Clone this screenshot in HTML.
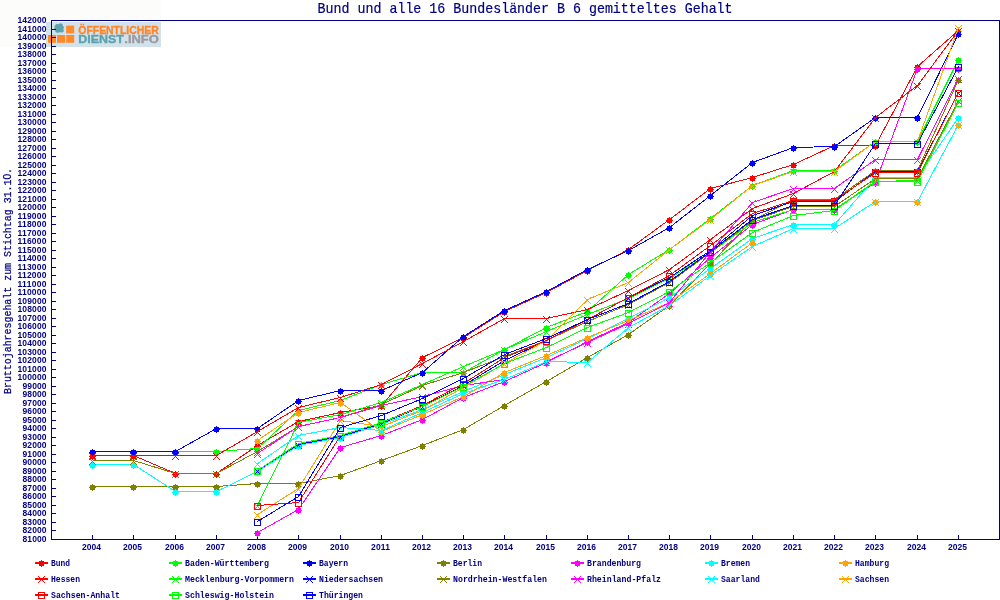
<!DOCTYPE html>
<html lang="de"><head><meta charset="utf-8"><title>Bund und alle 16 Bundesländer B 6 gemitteltes Gehalt</title>
<style>html,body{margin:0;padding:0;background:#fff}svg{display:block}text{font-family:"Liberation Mono","DejaVu Sans Mono",monospace;fill:#000080}.lg text,.d text{font-family:"Liberation Sans",sans-serif;font-weight:bold}</style></head><body>
<svg width="1000" height="600" viewBox="0 0 1000 600">
<rect width="1000" height="600" fill="#ffffff"/>
<rect x="0" y="0" width="161" height="47" fill="#fcfdfb"/>
<g class="lg"><rect x="46" y="22" width="115" height="25" fill="#d3e2ea"/>
<path d="M55 25.2l1.6-1.2 2.2.3 1.4-1 2.3.6.3 1.8 1.2 1.4-.6 2.2.5 2-1.6 1.2-2.8-.2-1.8.6-2.2-1-.3-2 -1-1.6z" fill="#5ba3ad"/>
<rect x="66.2" y="25.6" width="8" height="7.8" fill="#ff8a2c"/>
<rect x="48" y="35" width="8" height="7.8" fill="#ff8a2c"/>
<rect x="57.1" y="35" width="8" height="7.8" fill="#ff8a2c"/>
<rect x="66.2" y="35" width="8" height="7.8" fill="#ff8a2c"/>
<text x="78.3" y="33.6" font-size="10.9" textLength="80.5" lengthAdjust="spacingAndGlyphs" style="fill:#ff8527;stroke:#ff8527;stroke-width:.35">ÖFFENTLICHER</text>
<text x="78.3" y="42.8" font-size="10.9" textLength="45.5" lengthAdjust="spacingAndGlyphs" style="fill:#5ba3ad;stroke:#5ba3ad;stroke-width:.35">DIENST</text>
<text x="124.3" y="42.8" font-size="10.9" textLength="34.5" lengthAdjust="spacingAndGlyphs" style="fill:#9a9aa0;stroke:#9a9aa0;stroke-width:.35">.INFO</text>
</g>
<text x="317.6" y="13" font-size="14.2" textLength="415" lengthAdjust="spacingAndGlyphs" stroke="#000080" stroke-width=".2">Bund und alle 16 Bundesländer B 6 gemitteltes Gehalt</text>
<text transform="translate(10.6,394) rotate(-90)" font-size="10.6" textLength="226" lengthAdjust="spacingAndGlyphs" stroke="#000080" stroke-width=".25">Bruttojahresgehalt zum Stichtag 31.1<tspan style="font-family:'Liberation Sans',sans-serif">0</tspan>.</text>
<g shape-rendering="crispEdges" stroke="#000080" stroke-width="1" fill="none">
<path d="M51.5 20v520M51 539.5h949M999.5 20v520M51 20.5h949"/>
<path d="M52 539.5h4M52 530.5h4M52 522.5h4M52 513.5h4M52 505.5h4M52 496.5h4M52 488.5h4M52 479.5h4M52 471.5h4M52 462.5h4M52 454.5h4M52 445.5h4M52 437.5h4M52 428.5h4M52 420.5h4M52 411.5h4M52 403.5h4M52 394.5h4M52 386.5h4M52 377.5h4M52 369.5h4M52 360.5h4M52 352.5h4M52 343.5h4M52 335.5h4M52 326.5h4M52 318.5h4M52 309.5h4M52 301.5h4M52 292.5h4M52 284.5h4M52 275.5h4M52 267.5h4M52 258.5h4M52 250.5h4M52 241.5h4M52 233.5h4M52 224.5h4M52 216.5h4M52 207.5h4M52 199.5h4M52 190.5h4M52 182.5h4M52 173.5h4M52 165.5h4M52 156.5h4M52 148.5h4M52 139.5h4M52 131.5h4M52 122.5h4M52 114.5h4M52 105.5h4M52 97.5h4M52 88.5h4M52 80.5h4M52 71.5h4M52 63.5h4M52 54.5h4M52 46.5h4M52 37.5h4M52 29.5h4M52 20.5h4M92.5 535v4M133.5 535v4M175.5 535v4M216.5 535v4M257.5 535v4M298.5 535v4M340.5 535v4M381.5 535v4M422.5 535v4M463.5 535v4M504.5 535v4M546.5 535v4M587.5 535v4M628.5 535v4M669.5 535v4M710.5 535v4M752.5 535v4M793.5 535v4M834.5 535v4M875.5 535v4M917.5 535v4M958.5 535v4"/>
</g>
<g class="d" font-size="8.5" font-weight="bold">
<text x="22.5" y="542.1" textLength="24" lengthAdjust="spacing">81000</text>
<text x="22.5" y="533.1" textLength="24" lengthAdjust="spacing">82000</text>
<text x="22.5" y="525.1" textLength="24" lengthAdjust="spacing">83000</text>
<text x="22.5" y="516.1" textLength="24" lengthAdjust="spacing">84000</text>
<text x="22.5" y="508.1" textLength="24" lengthAdjust="spacing">85000</text>
<text x="22.5" y="499.1" textLength="24" lengthAdjust="spacing">86000</text>
<text x="22.5" y="491.1" textLength="24" lengthAdjust="spacing">87000</text>
<text x="22.5" y="482.1" textLength="24" lengthAdjust="spacing">88000</text>
<text x="22.5" y="474.1" textLength="24" lengthAdjust="spacing">89000</text>
<text x="22.5" y="465.1" textLength="24" lengthAdjust="spacing">90000</text>
<text x="22.5" y="457.1" textLength="24" lengthAdjust="spacing">91000</text>
<text x="22.5" y="448.1" textLength="24" lengthAdjust="spacing">92000</text>
<text x="22.5" y="440.1" textLength="24" lengthAdjust="spacing">93000</text>
<text x="22.5" y="431.1" textLength="24" lengthAdjust="spacing">94000</text>
<text x="22.5" y="423.1" textLength="24" lengthAdjust="spacing">95000</text>
<text x="22.5" y="414.1" textLength="24" lengthAdjust="spacing">96000</text>
<text x="22.5" y="406.1" textLength="24" lengthAdjust="spacing">97000</text>
<text x="22.5" y="397.1" textLength="24" lengthAdjust="spacing">98000</text>
<text x="22.5" y="389.1" textLength="24" lengthAdjust="spacing">99000</text>
<text x="17.5" y="380.1" textLength="29" lengthAdjust="spacing">100000</text>
<text x="17.5" y="372.1" textLength="29" lengthAdjust="spacing">101000</text>
<text x="17.5" y="363.1" textLength="29" lengthAdjust="spacing">102000</text>
<text x="17.5" y="355.1" textLength="29" lengthAdjust="spacing">103000</text>
<text x="17.5" y="346.1" textLength="29" lengthAdjust="spacing">104000</text>
<text x="17.5" y="338.1" textLength="29" lengthAdjust="spacing">105000</text>
<text x="17.5" y="329.1" textLength="29" lengthAdjust="spacing">106000</text>
<text x="17.5" y="321.1" textLength="29" lengthAdjust="spacing">107000</text>
<text x="17.5" y="312.1" textLength="29" lengthAdjust="spacing">108000</text>
<text x="17.5" y="304.1" textLength="29" lengthAdjust="spacing">109000</text>
<text x="17.5" y="295.1" textLength="29" lengthAdjust="spacing">110000</text>
<text x="17.5" y="287.1" textLength="29" lengthAdjust="spacing">111000</text>
<text x="17.5" y="278.1" textLength="29" lengthAdjust="spacing">112000</text>
<text x="17.5" y="270.1" textLength="29" lengthAdjust="spacing">113000</text>
<text x="17.5" y="261.1" textLength="29" lengthAdjust="spacing">114000</text>
<text x="17.5" y="253.1" textLength="29" lengthAdjust="spacing">115000</text>
<text x="17.5" y="244.1" textLength="29" lengthAdjust="spacing">116000</text>
<text x="17.5" y="236.1" textLength="29" lengthAdjust="spacing">117000</text>
<text x="17.5" y="227.1" textLength="29" lengthAdjust="spacing">118000</text>
<text x="17.5" y="219.1" textLength="29" lengthAdjust="spacing">119000</text>
<text x="17.5" y="210.1" textLength="29" lengthAdjust="spacing">120000</text>
<text x="17.5" y="202.1" textLength="29" lengthAdjust="spacing">121000</text>
<text x="17.5" y="193.1" textLength="29" lengthAdjust="spacing">122000</text>
<text x="17.5" y="185.1" textLength="29" lengthAdjust="spacing">123000</text>
<text x="17.5" y="176.1" textLength="29" lengthAdjust="spacing">124000</text>
<text x="17.5" y="168.1" textLength="29" lengthAdjust="spacing">125000</text>
<text x="17.5" y="159.1" textLength="29" lengthAdjust="spacing">126000</text>
<text x="17.5" y="151.1" textLength="29" lengthAdjust="spacing">127000</text>
<text x="17.5" y="142.1" textLength="29" lengthAdjust="spacing">128000</text>
<text x="17.5" y="134.1" textLength="29" lengthAdjust="spacing">129000</text>
<text x="17.5" y="125.1" textLength="29" lengthAdjust="spacing">130000</text>
<text x="17.5" y="117.1" textLength="29" lengthAdjust="spacing">131000</text>
<text x="17.5" y="108.1" textLength="29" lengthAdjust="spacing">132000</text>
<text x="17.5" y="100.1" textLength="29" lengthAdjust="spacing">133000</text>
<text x="17.5" y="91.1" textLength="29" lengthAdjust="spacing">134000</text>
<text x="17.5" y="83.1" textLength="29" lengthAdjust="spacing">135000</text>
<text x="17.5" y="74.1" textLength="29" lengthAdjust="spacing">136000</text>
<text x="17.5" y="66.1" textLength="29" lengthAdjust="spacing">137000</text>
<text x="17.5" y="57.1" textLength="29" lengthAdjust="spacing">138000</text>
<text x="17.5" y="49.1" textLength="29" lengthAdjust="spacing">139000</text>
<text x="17.5" y="40.1" textLength="29" lengthAdjust="spacing">140000</text>
<text x="17.5" y="32.1" textLength="29" lengthAdjust="spacing">141000</text>
<text x="17.5" y="23.1" textLength="29" lengthAdjust="spacing">142000</text>
<text x="82.0" y="550" textLength="19" lengthAdjust="spacing">2004</text>
<text x="123.0" y="550" textLength="19" lengthAdjust="spacing">2005</text>
<text x="165.0" y="550" textLength="19" lengthAdjust="spacing">2006</text>
<text x="206.0" y="550" textLength="19" lengthAdjust="spacing">2007</text>
<text x="247.0" y="550" textLength="19" lengthAdjust="spacing">2008</text>
<text x="288.0" y="550" textLength="19" lengthAdjust="spacing">2009</text>
<text x="330.0" y="550" textLength="19" lengthAdjust="spacing">2010</text>
<text x="371.0" y="550" textLength="19" lengthAdjust="spacing">2011</text>
<text x="412.0" y="550" textLength="19" lengthAdjust="spacing">2012</text>
<text x="453.0" y="550" textLength="19" lengthAdjust="spacing">2013</text>
<text x="494.0" y="550" textLength="19" lengthAdjust="spacing">2014</text>
<text x="536.0" y="550" textLength="19" lengthAdjust="spacing">2015</text>
<text x="577.0" y="550" textLength="19" lengthAdjust="spacing">2016</text>
<text x="618.0" y="550" textLength="19" lengthAdjust="spacing">2017</text>
<text x="659.0" y="550" textLength="19" lengthAdjust="spacing">2018</text>
<text x="700.0" y="550" textLength="19" lengthAdjust="spacing">2019</text>
<text x="742.0" y="550" textLength="19" lengthAdjust="spacing">2020</text>
<text x="783.0" y="550" textLength="19" lengthAdjust="spacing">2021</text>
<text x="824.0" y="550" textLength="19" lengthAdjust="spacing">2022</text>
<text x="865.0" y="550" textLength="19" lengthAdjust="spacing">2023</text>
<text x="907.0" y="550" textLength="19" lengthAdjust="spacing">2024</text>
<text x="948.0" y="550" textLength="19" lengthAdjust="spacing">2025</text>
</g>
<g shape-rendering="crispEdges" stroke-width="1" fill="none">
<path d="M92.5 455.5L133.5 455.5L175.5 473.5L216.5 473.5L257.5 445.5L298.5 421.5L340.5 412.5L381.5 405.5L422.5 357.5L463.5 337.5L504.5 311.5L546.5 292.5L587.5 270.5L628.5 249.5L669.5 219.5L710.5 188.5L752.5 177.5L793.5 164.5L834.5 145.5L875.5 145.5L917.5 66.5L958.5 30.5" stroke="#ff0000"/>
<g><path d="M90.0 454.0h5v5h-5zM92.0 453.0h1v7h-1zM89.0 456.0h7v1h-7z" fill="#ff0000" stroke="none"/><path d="M131.0 454.0h5v5h-5zM133.0 453.0h1v7h-1zM130.0 456.0h7v1h-7z" fill="#ff0000" stroke="none"/><path d="M173.0 472.0h5v5h-5zM175.0 471.0h1v7h-1zM172.0 474.0h7v1h-7z" fill="#ff0000" stroke="none"/><path d="M214.0 472.0h5v5h-5zM216.0 471.0h1v7h-1zM213.0 474.0h7v1h-7z" fill="#ff0000" stroke="none"/><path d="M255.0 444.0h5v5h-5zM257.0 443.0h1v7h-1zM254.0 446.0h7v1h-7z" fill="#ff0000" stroke="none"/><path d="M296.0 420.0h5v5h-5zM298.0 419.0h1v7h-1zM295.0 422.0h7v1h-7z" fill="#ff0000" stroke="none"/><path d="M338.0 411.0h5v5h-5zM340.0 410.0h1v7h-1zM337.0 413.0h7v1h-7z" fill="#ff0000" stroke="none"/><path d="M379.0 404.0h5v5h-5zM381.0 403.0h1v7h-1zM378.0 406.0h7v1h-7z" fill="#ff0000" stroke="none"/><path d="M420.0 356.0h5v5h-5zM422.0 355.0h1v7h-1zM419.0 358.0h7v1h-7z" fill="#ff0000" stroke="none"/><path d="M461.0 336.0h5v5h-5zM463.0 335.0h1v7h-1zM460.0 338.0h7v1h-7z" fill="#ff0000" stroke="none"/><path d="M502.0 310.0h5v5h-5zM504.0 309.0h1v7h-1zM501.0 312.0h7v1h-7z" fill="#ff0000" stroke="none"/><path d="M544.0 291.0h5v5h-5zM546.0 290.0h1v7h-1zM543.0 293.0h7v1h-7z" fill="#ff0000" stroke="none"/><path d="M585.0 269.0h5v5h-5zM587.0 268.0h1v7h-1zM584.0 271.0h7v1h-7z" fill="#ff0000" stroke="none"/><path d="M626.0 248.0h5v5h-5zM628.0 247.0h1v7h-1zM625.0 250.0h7v1h-7z" fill="#ff0000" stroke="none"/><path d="M667.0 218.0h5v5h-5zM669.0 217.0h1v7h-1zM666.0 220.0h7v1h-7z" fill="#ff0000" stroke="none"/><path d="M708.0 187.0h5v5h-5zM710.0 186.0h1v7h-1zM707.0 189.0h7v1h-7z" fill="#ff0000" stroke="none"/><path d="M750.0 176.0h5v5h-5zM752.0 175.0h1v7h-1zM749.0 178.0h7v1h-7z" fill="#ff0000" stroke="none"/><path d="M791.0 163.0h5v5h-5zM793.0 162.0h1v7h-1zM790.0 165.0h7v1h-7z" fill="#ff0000" stroke="none"/><path d="M832.0 144.0h5v5h-5zM834.0 143.0h1v7h-1zM831.0 146.0h7v1h-7z" fill="#ff0000" stroke="none"/><path d="M873.0 144.0h5v5h-5zM875.0 143.0h1v7h-1zM872.0 146.0h7v1h-7z" fill="#ff0000" stroke="none"/><path d="M915.0 65.0h5v5h-5zM917.0 64.0h1v7h-1zM914.0 67.0h7v1h-7z" fill="#ff0000" stroke="none"/><path d="M956.0 29.0h5v5h-5zM958.0 28.0h1v7h-1zM955.0 31.0h7v1h-7z" fill="#ff0000" stroke="none"/></g>
<path d="M92.5 451.5L133.5 451.5L175.5 451.5L216.5 451.5L257.5 448.5L298.5 410.5L340.5 400.5L381.5 384.5L422.5 372.5L463.5 372.5L504.5 349.5L546.5 327.5L587.5 311.5L628.5 274.5L669.5 249.5L710.5 218.5L752.5 185.5L793.5 170.5L834.5 170.5L875.5 141.5L917.5 141.5L958.5 59.5" stroke="#00ff00"/>
<g><path d="M90.0 450.0h5v5h-5zM92.0 449.0h1v7h-1zM89.0 452.0h7v1h-7z" fill="#00ff00" stroke="none"/><path d="M131.0 450.0h5v5h-5zM133.0 449.0h1v7h-1zM130.0 452.0h7v1h-7z" fill="#00ff00" stroke="none"/><path d="M173.0 450.0h5v5h-5zM175.0 449.0h1v7h-1zM172.0 452.0h7v1h-7z" fill="#00ff00" stroke="none"/><path d="M214.0 450.0h5v5h-5zM216.0 449.0h1v7h-1zM213.0 452.0h7v1h-7z" fill="#00ff00" stroke="none"/><path d="M255.0 447.0h5v5h-5zM257.0 446.0h1v7h-1zM254.0 449.0h7v1h-7z" fill="#00ff00" stroke="none"/><path d="M296.0 409.0h5v5h-5zM298.0 408.0h1v7h-1zM295.0 411.0h7v1h-7z" fill="#00ff00" stroke="none"/><path d="M338.0 399.0h5v5h-5zM340.0 398.0h1v7h-1zM337.0 401.0h7v1h-7z" fill="#00ff00" stroke="none"/><path d="M379.0 383.0h5v5h-5zM381.0 382.0h1v7h-1zM378.0 385.0h7v1h-7z" fill="#00ff00" stroke="none"/><path d="M420.0 371.0h5v5h-5zM422.0 370.0h1v7h-1zM419.0 373.0h7v1h-7z" fill="#00ff00" stroke="none"/><path d="M461.0 371.0h5v5h-5zM463.0 370.0h1v7h-1zM460.0 373.0h7v1h-7z" fill="#00ff00" stroke="none"/><path d="M502.0 348.0h5v5h-5zM504.0 347.0h1v7h-1zM501.0 350.0h7v1h-7z" fill="#00ff00" stroke="none"/><path d="M544.0 326.0h5v5h-5zM546.0 325.0h1v7h-1zM543.0 328.0h7v1h-7z" fill="#00ff00" stroke="none"/><path d="M585.0 310.0h5v5h-5zM587.0 309.0h1v7h-1zM584.0 312.0h7v1h-7z" fill="#00ff00" stroke="none"/><path d="M626.0 273.0h5v5h-5zM628.0 272.0h1v7h-1zM625.0 275.0h7v1h-7z" fill="#00ff00" stroke="none"/><path d="M667.0 248.0h5v5h-5zM669.0 247.0h1v7h-1zM666.0 250.0h7v1h-7z" fill="#00ff00" stroke="none"/><path d="M708.0 217.0h5v5h-5zM710.0 216.0h1v7h-1zM707.0 219.0h7v1h-7z" fill="#00ff00" stroke="none"/><path d="M750.0 184.0h5v5h-5zM752.0 183.0h1v7h-1zM749.0 186.0h7v1h-7z" fill="#00ff00" stroke="none"/><path d="M791.0 169.0h5v5h-5zM793.0 168.0h1v7h-1zM790.0 171.0h7v1h-7z" fill="#00ff00" stroke="none"/><path d="M832.0 169.0h5v5h-5zM834.0 168.0h1v7h-1zM831.0 171.0h7v1h-7z" fill="#00ff00" stroke="none"/><path d="M873.0 140.0h5v5h-5zM875.0 139.0h1v7h-1zM872.0 142.0h7v1h-7z" fill="#00ff00" stroke="none"/><path d="M915.0 140.0h5v5h-5zM917.0 139.0h1v7h-1zM914.0 142.0h7v1h-7z" fill="#00ff00" stroke="none"/><path d="M956.0 58.0h5v5h-5zM958.0 57.0h1v7h-1zM955.0 60.0h7v1h-7z" fill="#00ff00" stroke="none"/></g>
<path d="M92.5 451.5L133.5 451.5L175.5 451.5L216.5 428.5L257.5 428.5L298.5 400.5L340.5 390.5L381.5 390.5L422.5 372.5L463.5 336.5L504.5 310.5L546.5 291.5L587.5 269.5L628.5 250.5L669.5 227.5L710.5 195.5L752.5 162.5L793.5 147.5L834.5 146.5L875.5 117.5L917.5 117.5L958.5 33.5" stroke="#0000ff"/>
<g><path d="M90.0 450.0h5v5h-5zM92.0 449.0h1v7h-1zM89.0 452.0h7v1h-7z" fill="#0000ff" stroke="none"/><path d="M131.0 450.0h5v5h-5zM133.0 449.0h1v7h-1zM130.0 452.0h7v1h-7z" fill="#0000ff" stroke="none"/><path d="M173.0 450.0h5v5h-5zM175.0 449.0h1v7h-1zM172.0 452.0h7v1h-7z" fill="#0000ff" stroke="none"/><path d="M214.0 427.0h5v5h-5zM216.0 426.0h1v7h-1zM213.0 429.0h7v1h-7z" fill="#0000ff" stroke="none"/><path d="M255.0 427.0h5v5h-5zM257.0 426.0h1v7h-1zM254.0 429.0h7v1h-7z" fill="#0000ff" stroke="none"/><path d="M296.0 399.0h5v5h-5zM298.0 398.0h1v7h-1zM295.0 401.0h7v1h-7z" fill="#0000ff" stroke="none"/><path d="M338.0 389.0h5v5h-5zM340.0 388.0h1v7h-1zM337.0 391.0h7v1h-7z" fill="#0000ff" stroke="none"/><path d="M379.0 389.0h5v5h-5zM381.0 388.0h1v7h-1zM378.0 391.0h7v1h-7z" fill="#0000ff" stroke="none"/><path d="M420.0 371.0h5v5h-5zM422.0 370.0h1v7h-1zM419.0 373.0h7v1h-7z" fill="#0000ff" stroke="none"/><path d="M461.0 335.0h5v5h-5zM463.0 334.0h1v7h-1zM460.0 337.0h7v1h-7z" fill="#0000ff" stroke="none"/><path d="M502.0 309.0h5v5h-5zM504.0 308.0h1v7h-1zM501.0 311.0h7v1h-7z" fill="#0000ff" stroke="none"/><path d="M544.0 290.0h5v5h-5zM546.0 289.0h1v7h-1zM543.0 292.0h7v1h-7z" fill="#0000ff" stroke="none"/><path d="M585.0 268.0h5v5h-5zM587.0 267.0h1v7h-1zM584.0 270.0h7v1h-7z" fill="#0000ff" stroke="none"/><path d="M626.0 249.0h5v5h-5zM628.0 248.0h1v7h-1zM625.0 251.0h7v1h-7z" fill="#0000ff" stroke="none"/><path d="M667.0 226.0h5v5h-5zM669.0 225.0h1v7h-1zM666.0 228.0h7v1h-7z" fill="#0000ff" stroke="none"/><path d="M708.0 194.0h5v5h-5zM710.0 193.0h1v7h-1zM707.0 196.0h7v1h-7z" fill="#0000ff" stroke="none"/><path d="M750.0 161.0h5v5h-5zM752.0 160.0h1v7h-1zM749.0 163.0h7v1h-7z" fill="#0000ff" stroke="none"/><path d="M791.0 146.0h5v5h-5zM793.0 145.0h1v7h-1zM790.0 148.0h7v1h-7z" fill="#0000ff" stroke="none"/><path d="M832.0 145.0h5v5h-5zM834.0 144.0h1v7h-1zM831.0 147.0h7v1h-7z" fill="#0000ff" stroke="none"/><path d="M873.0 116.0h5v5h-5zM875.0 115.0h1v7h-1zM872.0 118.0h7v1h-7z" fill="#0000ff" stroke="none"/><path d="M915.0 116.0h5v5h-5zM917.0 115.0h1v7h-1zM914.0 118.0h7v1h-7z" fill="#0000ff" stroke="none"/><path d="M956.0 32.0h5v5h-5zM958.0 31.0h1v7h-1zM955.0 34.0h7v1h-7z" fill="#0000ff" stroke="none"/></g>
<path d="M92.5 486.5L133.5 486.5L175.5 486.5L216.5 486.5L257.5 483.5L298.5 483.5L340.5 475.5L381.5 460.5L422.5 445.5L463.5 429.5L504.5 405.5L546.5 381.5L587.5 357.5L628.5 334.5L669.5 305.5L710.5 263.5L752.5 220.5L793.5 199.5L834.5 199.5L875.5 170.5L917.5 170.5L958.5 79.5" stroke="#808000"/>
<g><path d="M90.0 485.0h5v5h-5zM92.0 484.0h1v7h-1zM89.0 487.0h7v1h-7z" fill="#808000" stroke="none"/><path d="M131.0 485.0h5v5h-5zM133.0 484.0h1v7h-1zM130.0 487.0h7v1h-7z" fill="#808000" stroke="none"/><path d="M173.0 485.0h5v5h-5zM175.0 484.0h1v7h-1zM172.0 487.0h7v1h-7z" fill="#808000" stroke="none"/><path d="M214.0 485.0h5v5h-5zM216.0 484.0h1v7h-1zM213.0 487.0h7v1h-7z" fill="#808000" stroke="none"/><path d="M255.0 482.0h5v5h-5zM257.0 481.0h1v7h-1zM254.0 484.0h7v1h-7z" fill="#808000" stroke="none"/><path d="M296.0 482.0h5v5h-5zM298.0 481.0h1v7h-1zM295.0 484.0h7v1h-7z" fill="#808000" stroke="none"/><path d="M338.0 474.0h5v5h-5zM340.0 473.0h1v7h-1zM337.0 476.0h7v1h-7z" fill="#808000" stroke="none"/><path d="M379.0 459.0h5v5h-5zM381.0 458.0h1v7h-1zM378.0 461.0h7v1h-7z" fill="#808000" stroke="none"/><path d="M420.0 444.0h5v5h-5zM422.0 443.0h1v7h-1zM419.0 446.0h7v1h-7z" fill="#808000" stroke="none"/><path d="M461.0 428.0h5v5h-5zM463.0 427.0h1v7h-1zM460.0 430.0h7v1h-7z" fill="#808000" stroke="none"/><path d="M502.0 404.0h5v5h-5zM504.0 403.0h1v7h-1zM501.0 406.0h7v1h-7z" fill="#808000" stroke="none"/><path d="M544.0 380.0h5v5h-5zM546.0 379.0h1v7h-1zM543.0 382.0h7v1h-7z" fill="#808000" stroke="none"/><path d="M585.0 356.0h5v5h-5zM587.0 355.0h1v7h-1zM584.0 358.0h7v1h-7z" fill="#808000" stroke="none"/><path d="M626.0 333.0h5v5h-5zM628.0 332.0h1v7h-1zM625.0 335.0h7v1h-7z" fill="#808000" stroke="none"/><path d="M667.0 304.0h5v5h-5zM669.0 303.0h1v7h-1zM666.0 306.0h7v1h-7z" fill="#808000" stroke="none"/><path d="M708.0 262.0h5v5h-5zM710.0 261.0h1v7h-1zM707.0 264.0h7v1h-7z" fill="#808000" stroke="none"/><path d="M750.0 219.0h5v5h-5zM752.0 218.0h1v7h-1zM749.0 221.0h7v1h-7z" fill="#808000" stroke="none"/><path d="M791.0 198.0h5v5h-5zM793.0 197.0h1v7h-1zM790.0 200.0h7v1h-7z" fill="#808000" stroke="none"/><path d="M832.0 198.0h5v5h-5zM834.0 197.0h1v7h-1zM831.0 200.0h7v1h-7z" fill="#808000" stroke="none"/><path d="M873.0 169.0h5v5h-5zM875.0 168.0h1v7h-1zM872.0 171.0h7v1h-7z" fill="#808000" stroke="none"/><path d="M915.0 169.0h5v5h-5zM917.0 168.0h1v7h-1zM914.0 171.0h7v1h-7z" fill="#808000" stroke="none"/><path d="M956.0 78.0h5v5h-5zM958.0 77.0h1v7h-1zM955.0 80.0h7v1h-7z" fill="#808000" stroke="none"/></g>
<path d="M257.5 532.5L298.5 509.5L340.5 447.5L381.5 435.5L422.5 419.5L463.5 397.5L504.5 381.5L546.5 362.5L587.5 341.5L628.5 322.5L669.5 293.5L710.5 257.5L752.5 224.5L793.5 209.5L834.5 209.5L875.5 182.5L917.5 68.5L958.5 68.5" stroke="#ff00ff"/>
<g><path d="M255.0 531.0h5v5h-5zM257.0 530.0h1v7h-1zM254.0 533.0h7v1h-7z" fill="#ff00ff" stroke="none"/><path d="M296.0 508.0h5v5h-5zM298.0 507.0h1v7h-1zM295.0 510.0h7v1h-7z" fill="#ff00ff" stroke="none"/><path d="M338.0 446.0h5v5h-5zM340.0 445.0h1v7h-1zM337.0 448.0h7v1h-7z" fill="#ff00ff" stroke="none"/><path d="M379.0 434.0h5v5h-5zM381.0 433.0h1v7h-1zM378.0 436.0h7v1h-7z" fill="#ff00ff" stroke="none"/><path d="M420.0 418.0h5v5h-5zM422.0 417.0h1v7h-1zM419.0 420.0h7v1h-7z" fill="#ff00ff" stroke="none"/><path d="M461.0 396.0h5v5h-5zM463.0 395.0h1v7h-1zM460.0 398.0h7v1h-7z" fill="#ff00ff" stroke="none"/><path d="M502.0 380.0h5v5h-5zM504.0 379.0h1v7h-1zM501.0 382.0h7v1h-7z" fill="#ff00ff" stroke="none"/><path d="M544.0 361.0h5v5h-5zM546.0 360.0h1v7h-1zM543.0 363.0h7v1h-7z" fill="#ff00ff" stroke="none"/><path d="M585.0 340.0h5v5h-5zM587.0 339.0h1v7h-1zM584.0 342.0h7v1h-7z" fill="#ff00ff" stroke="none"/><path d="M626.0 321.0h5v5h-5zM628.0 320.0h1v7h-1zM625.0 323.0h7v1h-7z" fill="#ff00ff" stroke="none"/><path d="M667.0 292.0h5v5h-5zM669.0 291.0h1v7h-1zM666.0 294.0h7v1h-7z" fill="#ff00ff" stroke="none"/><path d="M708.0 256.0h5v5h-5zM710.0 255.0h1v7h-1zM707.0 258.0h7v1h-7z" fill="#ff00ff" stroke="none"/><path d="M750.0 223.0h5v5h-5zM752.0 222.0h1v7h-1zM749.0 225.0h7v1h-7z" fill="#ff00ff" stroke="none"/><path d="M791.0 208.0h5v5h-5zM793.0 207.0h1v7h-1zM790.0 210.0h7v1h-7z" fill="#ff00ff" stroke="none"/><path d="M832.0 208.0h5v5h-5zM834.0 207.0h1v7h-1zM831.0 210.0h7v1h-7z" fill="#ff00ff" stroke="none"/><path d="M873.0 181.0h5v5h-5zM875.0 180.0h1v7h-1zM872.0 183.0h7v1h-7z" fill="#ff00ff" stroke="none"/><path d="M915.0 67.0h5v5h-5zM917.0 66.0h1v7h-1zM914.0 69.0h7v1h-7z" fill="#ff00ff" stroke="none"/><path d="M956.0 67.0h5v5h-5zM958.0 66.0h1v7h-1zM955.0 69.0h7v1h-7z" fill="#ff00ff" stroke="none"/></g>
<path d="M92.5 464.5L133.5 464.5L175.5 491.5L216.5 491.5L257.5 471.5L298.5 445.5L340.5 437.5L381.5 424.5L422.5 409.5L463.5 391.5L504.5 374.5L546.5 357.5L587.5 338.5L628.5 318.5L669.5 297.5L710.5 268.5L752.5 238.5L793.5 224.5L834.5 224.5L875.5 177.5L917.5 177.5L958.5 117.5" stroke="#00ffff"/>
<g><path d="M90.0 463.0h5v5h-5zM92.0 462.0h1v7h-1zM89.0 465.0h7v1h-7z" fill="#00ffff" stroke="none"/><path d="M131.0 463.0h5v5h-5zM133.0 462.0h1v7h-1zM130.0 465.0h7v1h-7z" fill="#00ffff" stroke="none"/><path d="M173.0 490.0h5v5h-5zM175.0 489.0h1v7h-1zM172.0 492.0h7v1h-7z" fill="#00ffff" stroke="none"/><path d="M214.0 490.0h5v5h-5zM216.0 489.0h1v7h-1zM213.0 492.0h7v1h-7z" fill="#00ffff" stroke="none"/><path d="M255.0 470.0h5v5h-5zM257.0 469.0h1v7h-1zM254.0 472.0h7v1h-7z" fill="#00ffff" stroke="none"/><path d="M296.0 444.0h5v5h-5zM298.0 443.0h1v7h-1zM295.0 446.0h7v1h-7z" fill="#00ffff" stroke="none"/><path d="M338.0 436.0h5v5h-5zM340.0 435.0h1v7h-1zM337.0 438.0h7v1h-7z" fill="#00ffff" stroke="none"/><path d="M379.0 423.0h5v5h-5zM381.0 422.0h1v7h-1zM378.0 425.0h7v1h-7z" fill="#00ffff" stroke="none"/><path d="M420.0 408.0h5v5h-5zM422.0 407.0h1v7h-1zM419.0 410.0h7v1h-7z" fill="#00ffff" stroke="none"/><path d="M461.0 390.0h5v5h-5zM463.0 389.0h1v7h-1zM460.0 392.0h7v1h-7z" fill="#00ffff" stroke="none"/><path d="M502.0 373.0h5v5h-5zM504.0 372.0h1v7h-1zM501.0 375.0h7v1h-7z" fill="#00ffff" stroke="none"/><path d="M544.0 356.0h5v5h-5zM546.0 355.0h1v7h-1zM543.0 358.0h7v1h-7z" fill="#00ffff" stroke="none"/><path d="M585.0 337.0h5v5h-5zM587.0 336.0h1v7h-1zM584.0 339.0h7v1h-7z" fill="#00ffff" stroke="none"/><path d="M626.0 317.0h5v5h-5zM628.0 316.0h1v7h-1zM625.0 319.0h7v1h-7z" fill="#00ffff" stroke="none"/><path d="M667.0 296.0h5v5h-5zM669.0 295.0h1v7h-1zM666.0 298.0h7v1h-7z" fill="#00ffff" stroke="none"/><path d="M708.0 267.0h5v5h-5zM710.0 266.0h1v7h-1zM707.0 269.0h7v1h-7z" fill="#00ffff" stroke="none"/><path d="M750.0 237.0h5v5h-5zM752.0 236.0h1v7h-1zM749.0 239.0h7v1h-7z" fill="#00ffff" stroke="none"/><path d="M791.0 223.0h5v5h-5zM793.0 222.0h1v7h-1zM790.0 225.0h7v1h-7z" fill="#00ffff" stroke="none"/><path d="M832.0 223.0h5v5h-5zM834.0 222.0h1v7h-1zM831.0 225.0h7v1h-7z" fill="#00ffff" stroke="none"/><path d="M873.0 176.0h5v5h-5zM875.0 175.0h1v7h-1zM872.0 178.0h7v1h-7z" fill="#00ffff" stroke="none"/><path d="M915.0 176.0h5v5h-5zM917.0 175.0h1v7h-1zM914.0 178.0h7v1h-7z" fill="#00ffff" stroke="none"/><path d="M956.0 116.0h5v5h-5zM958.0 115.0h1v7h-1zM955.0 118.0h7v1h-7z" fill="#00ffff" stroke="none"/></g>
<path d="M257.5 440.5L298.5 412.5L340.5 402.5L381.5 431.5L422.5 414.5L463.5 396.5L504.5 372.5L546.5 355.5L587.5 337.5L628.5 320.5L669.5 302.5L710.5 273.5L752.5 242.5M875.5 201.5L917.5 201.5L958.5 124.5" stroke="#ffa500"/>
<g><path d="M255.0 439.0h5v5h-5zM257.0 438.0h1v7h-1zM254.0 441.0h7v1h-7z" fill="#ffa500" stroke="none"/><path d="M296.0 411.0h5v5h-5zM298.0 410.0h1v7h-1zM295.0 413.0h7v1h-7z" fill="#ffa500" stroke="none"/><path d="M338.0 401.0h5v5h-5zM340.0 400.0h1v7h-1zM337.0 403.0h7v1h-7z" fill="#ffa500" stroke="none"/><path d="M379.0 430.0h5v5h-5zM381.0 429.0h1v7h-1zM378.0 432.0h7v1h-7z" fill="#ffa500" stroke="none"/><path d="M420.0 413.0h5v5h-5zM422.0 412.0h1v7h-1zM419.0 415.0h7v1h-7z" fill="#ffa500" stroke="none"/><path d="M461.0 395.0h5v5h-5zM463.0 394.0h1v7h-1zM460.0 397.0h7v1h-7z" fill="#ffa500" stroke="none"/><path d="M502.0 371.0h5v5h-5zM504.0 370.0h1v7h-1zM501.0 373.0h7v1h-7z" fill="#ffa500" stroke="none"/><path d="M544.0 354.0h5v5h-5zM546.0 353.0h1v7h-1zM543.0 356.0h7v1h-7z" fill="#ffa500" stroke="none"/><path d="M585.0 336.0h5v5h-5zM587.0 335.0h1v7h-1zM584.0 338.0h7v1h-7z" fill="#ffa500" stroke="none"/><path d="M626.0 319.0h5v5h-5zM628.0 318.0h1v7h-1zM625.0 321.0h7v1h-7z" fill="#ffa500" stroke="none"/><path d="M667.0 301.0h5v5h-5zM669.0 300.0h1v7h-1zM666.0 303.0h7v1h-7z" fill="#ffa500" stroke="none"/><path d="M708.0 272.0h5v5h-5zM710.0 271.0h1v7h-1zM707.0 274.0h7v1h-7z" fill="#ffa500" stroke="none"/><path d="M750.0 241.0h5v5h-5zM752.0 240.0h1v7h-1zM749.0 243.0h7v1h-7z" fill="#ffa500" stroke="none"/><path d="M873.0 200.0h5v5h-5zM875.0 199.0h1v7h-1zM872.0 202.0h7v1h-7z" fill="#ffa500" stroke="none"/><path d="M915.0 200.0h5v5h-5zM917.0 199.0h1v7h-1zM914.0 202.0h7v1h-7z" fill="#ffa500" stroke="none"/><path d="M956.0 123.0h5v5h-5zM958.0 122.0h1v7h-1zM955.0 125.0h7v1h-7z" fill="#ffa500" stroke="none"/></g>
<path d="M92.5 455.5L133.5 455.5L175.5 455.5L216.5 455.5L257.5 431.5L298.5 407.5L340.5 397.5L381.5 384.5L422.5 363.5L463.5 341.5L504.5 318.5L546.5 318.5L587.5 309.5L628.5 290.5L669.5 269.5L710.5 239.5L752.5 208.5L793.5 193.5L834.5 171.5L875.5 117.5L917.5 85.5L958.5 30.5" stroke="#ff0000"/>
<g><path d="M89.0 453.0L96.0 460.0M89.0 460.0L96.0 453.0" stroke="#ff0000" fill="none"/><path d="M130.0 453.0L137.0 460.0M130.0 460.0L137.0 453.0" stroke="#ff0000" fill="none"/><path d="M172.0 453.0L179.0 460.0M172.0 460.0L179.0 453.0" stroke="#ff0000" fill="none"/><path d="M213.0 453.0L220.0 460.0M213.0 460.0L220.0 453.0" stroke="#ff0000" fill="none"/><path d="M254.0 429.0L261.0 436.0M254.0 436.0L261.0 429.0" stroke="#ff0000" fill="none"/><path d="M295.0 405.0L302.0 412.0M295.0 412.0L302.0 405.0" stroke="#ff0000" fill="none"/><path d="M337.0 395.0L344.0 402.0M337.0 402.0L344.0 395.0" stroke="#ff0000" fill="none"/><path d="M378.0 382.0L385.0 389.0M378.0 389.0L385.0 382.0" stroke="#ff0000" fill="none"/><path d="M419.0 361.0L426.0 368.0M419.0 368.0L426.0 361.0" stroke="#ff0000" fill="none"/><path d="M460.0 339.0L467.0 346.0M460.0 346.0L467.0 339.0" stroke="#ff0000" fill="none"/><path d="M501.0 316.0L508.0 323.0M501.0 323.0L508.0 316.0" stroke="#ff0000" fill="none"/><path d="M543.0 316.0L550.0 323.0M543.0 323.0L550.0 316.0" stroke="#ff0000" fill="none"/><path d="M584.0 307.0L591.0 314.0M584.0 314.0L591.0 307.0" stroke="#ff0000" fill="none"/><path d="M625.0 288.0L632.0 295.0M625.0 295.0L632.0 288.0" stroke="#ff0000" fill="none"/><path d="M666.0 267.0L673.0 274.0M666.0 274.0L673.0 267.0" stroke="#ff0000" fill="none"/><path d="M707.0 237.0L714.0 244.0M707.0 244.0L714.0 237.0" stroke="#ff0000" fill="none"/><path d="M749.0 206.0L756.0 213.0M749.0 213.0L756.0 206.0" stroke="#ff0000" fill="none"/><path d="M790.0 191.0L797.0 198.0M790.0 198.0L797.0 191.0" stroke="#ff0000" fill="none"/><path d="M831.0 169.0L838.0 176.0M831.0 176.0L838.0 169.0" stroke="#ff0000" fill="none"/><path d="M872.0 115.0L879.0 122.0M872.0 122.0L879.0 115.0" stroke="#ff0000" fill="none"/><path d="M914.0 83.0L921.0 90.0M914.0 90.0L921.0 83.0" stroke="#ff0000" fill="none"/><path d="M955.0 28.0L962.0 35.0M955.0 35.0L962.0 28.0" stroke="#ff0000" fill="none"/></g>
<path d="M257.5 505.5L298.5 422.5L340.5 414.5L381.5 402.5L422.5 384.5L463.5 366.5L504.5 349.5L546.5 331.5L587.5 314.5L628.5 298.5L669.5 278.5L710.5 252.5L752.5 222.5L793.5 209.5L834.5 209.5L875.5 181.5L917.5 180.5L958.5 100.5" stroke="#00ff00"/>
<g><path d="M254.0 503.0L261.0 510.0M254.0 510.0L261.0 503.0" stroke="#00ff00" fill="none"/><path d="M295.0 420.0L302.0 427.0M295.0 427.0L302.0 420.0" stroke="#00ff00" fill="none"/><path d="M337.0 412.0L344.0 419.0M337.0 419.0L344.0 412.0" stroke="#00ff00" fill="none"/><path d="M378.0 400.0L385.0 407.0M378.0 407.0L385.0 400.0" stroke="#00ff00" fill="none"/><path d="M419.0 382.0L426.0 389.0M419.0 389.0L426.0 382.0" stroke="#00ff00" fill="none"/><path d="M460.0 364.0L467.0 371.0M460.0 371.0L467.0 364.0" stroke="#00ff00" fill="none"/><path d="M501.0 347.0L508.0 354.0M501.0 354.0L508.0 347.0" stroke="#00ff00" fill="none"/><path d="M543.0 329.0L550.0 336.0M543.0 336.0L550.0 329.0" stroke="#00ff00" fill="none"/><path d="M584.0 312.0L591.0 319.0M584.0 319.0L591.0 312.0" stroke="#00ff00" fill="none"/><path d="M625.0 296.0L632.0 303.0M625.0 303.0L632.0 296.0" stroke="#00ff00" fill="none"/><path d="M666.0 276.0L673.0 283.0M666.0 283.0L673.0 276.0" stroke="#00ff00" fill="none"/><path d="M707.0 250.0L714.0 257.0M707.0 257.0L714.0 250.0" stroke="#00ff00" fill="none"/><path d="M749.0 220.0L756.0 227.0M749.0 227.0L756.0 220.0" stroke="#00ff00" fill="none"/><path d="M790.0 207.0L797.0 214.0M790.0 214.0L797.0 207.0" stroke="#00ff00" fill="none"/><path d="M831.0 207.0L838.0 214.0M831.0 214.0L838.0 207.0" stroke="#00ff00" fill="none"/><path d="M872.0 179.0L879.0 186.0M872.0 186.0L879.0 179.0" stroke="#00ff00" fill="none"/><path d="M914.0 178.0L921.0 185.0M914.0 185.0L921.0 178.0" stroke="#00ff00" fill="none"/><path d="M955.0 98.0L962.0 105.0M955.0 105.0L962.0 98.0" stroke="#00ff00" fill="none"/></g>
<path d="M257.5 470.5L298.5 444.5L340.5 436.5L381.5 423.5L422.5 406.5L463.5 385.5L504.5 360.5L546.5 340.5L587.5 319.5L628.5 297.5L669.5 277.5L710.5 250.5L752.5 215.5L793.5 201.5L834.5 201.5L875.5 171.5L917.5 171.5L958.5 92.5" stroke="#0000ff"/>
<g><path d="M254.0 468.0L261.0 475.0M254.0 475.0L261.0 468.0" stroke="#0000ff" fill="none"/><path d="M295.0 442.0L302.0 449.0M295.0 449.0L302.0 442.0" stroke="#0000ff" fill="none"/><path d="M337.0 434.0L344.0 441.0M337.0 441.0L344.0 434.0" stroke="#0000ff" fill="none"/><path d="M378.0 421.0L385.0 428.0M378.0 428.0L385.0 421.0" stroke="#0000ff" fill="none"/><path d="M419.0 404.0L426.0 411.0M419.0 411.0L426.0 404.0" stroke="#0000ff" fill="none"/><path d="M460.0 383.0L467.0 390.0M460.0 390.0L467.0 383.0" stroke="#0000ff" fill="none"/><path d="M501.0 358.0L508.0 365.0M501.0 365.0L508.0 358.0" stroke="#0000ff" fill="none"/><path d="M543.0 338.0L550.0 345.0M543.0 345.0L550.0 338.0" stroke="#0000ff" fill="none"/><path d="M584.0 317.0L591.0 324.0M584.0 324.0L591.0 317.0" stroke="#0000ff" fill="none"/><path d="M625.0 295.0L632.0 302.0M625.0 302.0L632.0 295.0" stroke="#0000ff" fill="none"/><path d="M666.0 275.0L673.0 282.0M666.0 282.0L673.0 275.0" stroke="#0000ff" fill="none"/><path d="M707.0 248.0L714.0 255.0M707.0 255.0L714.0 248.0" stroke="#0000ff" fill="none"/><path d="M749.0 213.0L756.0 220.0M749.0 220.0L756.0 213.0" stroke="#0000ff" fill="none"/><path d="M790.0 199.0L797.0 206.0M790.0 206.0L797.0 199.0" stroke="#0000ff" fill="none"/><path d="M831.0 199.0L838.0 206.0M831.0 206.0L838.0 199.0" stroke="#0000ff" fill="none"/><path d="M872.0 169.0L879.0 176.0M872.0 176.0L879.0 169.0" stroke="#0000ff" fill="none"/><path d="M914.0 169.0L921.0 176.0M914.0 176.0L921.0 169.0" stroke="#0000ff" fill="none"/><path d="M955.0 90.0L962.0 97.0M955.0 97.0L962.0 90.0" stroke="#0000ff" fill="none"/></g>
<path d="M92.5 460.5L133.5 460.5L175.5 473.5L216.5 473.5L257.5 451.5L298.5 426.5L340.5 417.5L381.5 404.5L422.5 385.5L463.5 372.5L504.5 356.5L546.5 340.5L587.5 321.5L628.5 304.5L669.5 282.5L710.5 252.5L752.5 220.5L793.5 206.5L834.5 206.5L875.5 178.5L917.5 178.5L958.5 100.5" stroke="#808000"/>
<g><path d="M89.0 458.0L96.0 465.0M89.0 465.0L96.0 458.0" stroke="#808000" fill="none"/><path d="M130.0 458.0L137.0 465.0M130.0 465.0L137.0 458.0" stroke="#808000" fill="none"/><path d="M172.0 471.0L179.0 478.0M172.0 478.0L179.0 471.0" stroke="#808000" fill="none"/><path d="M213.0 471.0L220.0 478.0M213.0 478.0L220.0 471.0" stroke="#808000" fill="none"/><path d="M254.0 449.0L261.0 456.0M254.0 456.0L261.0 449.0" stroke="#808000" fill="none"/><path d="M295.0 424.0L302.0 431.0M295.0 431.0L302.0 424.0" stroke="#808000" fill="none"/><path d="M337.0 415.0L344.0 422.0M337.0 422.0L344.0 415.0" stroke="#808000" fill="none"/><path d="M378.0 402.0L385.0 409.0M378.0 409.0L385.0 402.0" stroke="#808000" fill="none"/><path d="M419.0 383.0L426.0 390.0M419.0 390.0L426.0 383.0" stroke="#808000" fill="none"/><path d="M460.0 370.0L467.0 377.0M460.0 377.0L467.0 370.0" stroke="#808000" fill="none"/><path d="M501.0 354.0L508.0 361.0M501.0 361.0L508.0 354.0" stroke="#808000" fill="none"/><path d="M543.0 338.0L550.0 345.0M543.0 345.0L550.0 338.0" stroke="#808000" fill="none"/><path d="M584.0 319.0L591.0 326.0M584.0 326.0L591.0 319.0" stroke="#808000" fill="none"/><path d="M625.0 302.0L632.0 309.0M625.0 309.0L632.0 302.0" stroke="#808000" fill="none"/><path d="M666.0 280.0L673.0 287.0M666.0 287.0L673.0 280.0" stroke="#808000" fill="none"/><path d="M707.0 250.0L714.0 257.0M707.0 257.0L714.0 250.0" stroke="#808000" fill="none"/><path d="M749.0 218.0L756.0 225.0M749.0 225.0L756.0 218.0" stroke="#808000" fill="none"/><path d="M790.0 204.0L797.0 211.0M790.0 211.0L797.0 204.0" stroke="#808000" fill="none"/><path d="M831.0 204.0L838.0 211.0M831.0 211.0L838.0 204.0" stroke="#808000" fill="none"/><path d="M872.0 176.0L879.0 183.0M872.0 183.0L879.0 176.0" stroke="#808000" fill="none"/><path d="M914.0 176.0L921.0 183.0M914.0 183.0L921.0 176.0" stroke="#808000" fill="none"/><path d="M955.0 98.0L962.0 105.0M955.0 105.0L962.0 98.0" stroke="#808000" fill="none"/></g>
<path d="M257.5 453.5L298.5 426.5L340.5 417.5L381.5 405.5L422.5 396.5L463.5 385.5L504.5 379.5L546.5 361.5L587.5 342.5L628.5 323.5L669.5 302.5L710.5 251.5L752.5 202.5L793.5 188.5L834.5 188.5L875.5 159.5L917.5 159.5L958.5 78.5" stroke="#ff00ff"/>
<g><path d="M254.0 451.0L261.0 458.0M254.0 458.0L261.0 451.0" stroke="#ff00ff" fill="none"/><path d="M295.0 424.0L302.0 431.0M295.0 431.0L302.0 424.0" stroke="#ff00ff" fill="none"/><path d="M337.0 415.0L344.0 422.0M337.0 422.0L344.0 415.0" stroke="#ff00ff" fill="none"/><path d="M378.0 403.0L385.0 410.0M378.0 410.0L385.0 403.0" stroke="#ff00ff" fill="none"/><path d="M419.0 394.0L426.0 401.0M419.0 401.0L426.0 394.0" stroke="#ff00ff" fill="none"/><path d="M460.0 383.0L467.0 390.0M460.0 390.0L467.0 383.0" stroke="#ff00ff" fill="none"/><path d="M501.0 377.0L508.0 384.0M501.0 384.0L508.0 377.0" stroke="#ff00ff" fill="none"/><path d="M543.0 359.0L550.0 366.0M543.0 366.0L550.0 359.0" stroke="#ff00ff" fill="none"/><path d="M584.0 340.0L591.0 347.0M584.0 347.0L591.0 340.0" stroke="#ff00ff" fill="none"/><path d="M625.0 321.0L632.0 328.0M625.0 328.0L632.0 321.0" stroke="#ff00ff" fill="none"/><path d="M666.0 300.0L673.0 307.0M666.0 307.0L673.0 300.0" stroke="#ff00ff" fill="none"/><path d="M707.0 249.0L714.0 256.0M707.0 256.0L714.0 249.0" stroke="#ff00ff" fill="none"/><path d="M749.0 200.0L756.0 207.0M749.0 207.0L756.0 200.0" stroke="#ff00ff" fill="none"/><path d="M790.0 186.0L797.0 193.0M790.0 193.0L797.0 186.0" stroke="#ff00ff" fill="none"/><path d="M831.0 186.0L838.0 193.0M831.0 193.0L838.0 186.0" stroke="#ff00ff" fill="none"/><path d="M872.0 157.0L879.0 164.0M872.0 164.0L879.0 157.0" stroke="#ff00ff" fill="none"/><path d="M914.0 157.0L921.0 164.0M914.0 164.0L921.0 157.0" stroke="#ff00ff" fill="none"/><path d="M955.0 76.0L962.0 83.0M955.0 83.0L962.0 76.0" stroke="#ff00ff" fill="none"/></g>
<path d="M257.5 463.5L298.5 435.5L340.5 427.5L381.5 430.5L422.5 412.5L463.5 393.5L504.5 379.5L546.5 361.5L587.5 362.5L628.5 327.5L669.5 305.5L710.5 275.5L752.5 246.5L793.5 228.5L834.5 228.5L875.5 201.5L917.5 201.5L958.5 124.5" stroke="#00ffff"/>
<g><path d="M254.0 461.0L261.0 468.0M254.0 468.0L261.0 461.0" stroke="#00ffff" fill="none"/><path d="M295.0 433.0L302.0 440.0M295.0 440.0L302.0 433.0" stroke="#00ffff" fill="none"/><path d="M337.0 425.0L344.0 432.0M337.0 432.0L344.0 425.0" stroke="#00ffff" fill="none"/><path d="M378.0 428.0L385.0 435.0M378.0 435.0L385.0 428.0" stroke="#00ffff" fill="none"/><path d="M419.0 410.0L426.0 417.0M419.0 417.0L426.0 410.0" stroke="#00ffff" fill="none"/><path d="M460.0 391.0L467.0 398.0M460.0 398.0L467.0 391.0" stroke="#00ffff" fill="none"/><path d="M501.0 377.0L508.0 384.0M501.0 384.0L508.0 377.0" stroke="#00ffff" fill="none"/><path d="M543.0 359.0L550.0 366.0M543.0 366.0L550.0 359.0" stroke="#00ffff" fill="none"/><path d="M584.0 360.0L591.0 367.0M584.0 367.0L591.0 360.0" stroke="#00ffff" fill="none"/><path d="M625.0 325.0L632.0 332.0M625.0 332.0L632.0 325.0" stroke="#00ffff" fill="none"/><path d="M666.0 303.0L673.0 310.0M666.0 310.0L673.0 303.0" stroke="#00ffff" fill="none"/><path d="M707.0 273.0L714.0 280.0M707.0 280.0L714.0 273.0" stroke="#00ffff" fill="none"/><path d="M749.0 244.0L756.0 251.0M749.0 251.0L756.0 244.0" stroke="#00ffff" fill="none"/><path d="M790.0 226.0L797.0 233.0M790.0 233.0L797.0 226.0" stroke="#00ffff" fill="none"/><path d="M831.0 226.0L838.0 233.0M831.0 233.0L838.0 226.0" stroke="#00ffff" fill="none"/><path d="M872.0 199.0L879.0 206.0M872.0 206.0L879.0 199.0" stroke="#00ffff" fill="none"/><path d="M914.0 199.0L921.0 206.0M914.0 206.0L921.0 199.0" stroke="#00ffff" fill="none"/><path d="M955.0 122.0L962.0 129.0M955.0 129.0L962.0 122.0" stroke="#00ffff" fill="none"/></g>
<path d="M257.5 514.5L298.5 488.5L340.5 420.5L381.5 426.5L422.5 410.5L463.5 387.5L504.5 363.5L546.5 340.5L587.5 299.5L628.5 282.5L669.5 249.5L710.5 219.5L752.5 185.5L793.5 171.5L834.5 171.5L875.5 141.5L917.5 141.5L958.5 27.5" stroke="#ffa500"/>
<g><path d="M254.0 512.0L261.0 519.0M254.0 519.0L261.0 512.0" stroke="#ffa500" fill="none"/><path d="M295.0 486.0L302.0 493.0M295.0 493.0L302.0 486.0" stroke="#ffa500" fill="none"/><path d="M337.0 418.0L344.0 425.0M337.0 425.0L344.0 418.0" stroke="#ffa500" fill="none"/><path d="M378.0 424.0L385.0 431.0M378.0 431.0L385.0 424.0" stroke="#ffa500" fill="none"/><path d="M419.0 408.0L426.0 415.0M419.0 415.0L426.0 408.0" stroke="#ffa500" fill="none"/><path d="M460.0 385.0L467.0 392.0M460.0 392.0L467.0 385.0" stroke="#ffa500" fill="none"/><path d="M501.0 361.0L508.0 368.0M501.0 368.0L508.0 361.0" stroke="#ffa500" fill="none"/><path d="M543.0 338.0L550.0 345.0M543.0 345.0L550.0 338.0" stroke="#ffa500" fill="none"/><path d="M584.0 297.0L591.0 304.0M584.0 304.0L591.0 297.0" stroke="#ffa500" fill="none"/><path d="M625.0 280.0L632.0 287.0M625.0 287.0L632.0 280.0" stroke="#ffa500" fill="none"/><path d="M666.0 247.0L673.0 254.0M666.0 254.0L673.0 247.0" stroke="#ffa500" fill="none"/><path d="M707.0 217.0L714.0 224.0M707.0 224.0L714.0 217.0" stroke="#ffa500" fill="none"/><path d="M749.0 183.0L756.0 190.0M749.0 190.0L756.0 183.0" stroke="#ffa500" fill="none"/><path d="M790.0 169.0L797.0 176.0M790.0 176.0L797.0 169.0" stroke="#ffa500" fill="none"/><path d="M831.0 169.0L838.0 176.0M831.0 176.0L838.0 169.0" stroke="#ffa500" fill="none"/><path d="M872.0 139.0L879.0 146.0M872.0 146.0L879.0 139.0" stroke="#ffa500" fill="none"/><path d="M914.0 139.0L921.0 146.0M914.0 146.0L921.0 139.0" stroke="#ffa500" fill="none"/><path d="M955.0 25.0L962.0 32.0M955.0 32.0L962.0 25.0" stroke="#ffa500" fill="none"/></g>
<path d="M257.5 505.5L298.5 502.5L340.5 435.5L381.5 422.5L422.5 405.5L463.5 383.5L504.5 357.5L546.5 340.5L587.5 319.5L628.5 297.5L669.5 275.5L710.5 245.5L752.5 213.5L793.5 200.5L834.5 200.5L875.5 172.5L917.5 172.5L958.5 92.5" stroke="#ff0000"/>
<g><rect x="254.5" y="503.5" width="6" height="6" stroke="#ff0000" fill="none"/><rect x="295.5" y="500.5" width="6" height="6" stroke="#ff0000" fill="none"/><rect x="337.5" y="433.5" width="6" height="6" stroke="#ff0000" fill="none"/><rect x="378.5" y="420.5" width="6" height="6" stroke="#ff0000" fill="none"/><rect x="419.5" y="403.5" width="6" height="6" stroke="#ff0000" fill="none"/><rect x="460.5" y="381.5" width="6" height="6" stroke="#ff0000" fill="none"/><rect x="501.5" y="355.5" width="6" height="6" stroke="#ff0000" fill="none"/><rect x="543.5" y="338.5" width="6" height="6" stroke="#ff0000" fill="none"/><rect x="584.5" y="317.5" width="6" height="6" stroke="#ff0000" fill="none"/><rect x="625.5" y="295.5" width="6" height="6" stroke="#ff0000" fill="none"/><rect x="666.5" y="273.5" width="6" height="6" stroke="#ff0000" fill="none"/><rect x="707.5" y="243.5" width="6" height="6" stroke="#ff0000" fill="none"/><rect x="749.5" y="211.5" width="6" height="6" stroke="#ff0000" fill="none"/><rect x="790.5" y="198.5" width="6" height="6" stroke="#ff0000" fill="none"/><rect x="831.5" y="198.5" width="6" height="6" stroke="#ff0000" fill="none"/><rect x="872.5" y="170.5" width="6" height="6" stroke="#ff0000" fill="none"/><rect x="914.5" y="170.5" width="6" height="6" stroke="#ff0000" fill="none"/><rect x="955.5" y="90.5" width="6" height="6" stroke="#ff0000" fill="none"/></g>
<path d="M257.5 470.5L298.5 443.5L340.5 435.5L381.5 422.5L422.5 406.5L463.5 386.5L504.5 363.5L546.5 347.5L587.5 327.5L628.5 312.5L669.5 291.5L710.5 262.5L752.5 232.5L793.5 215.5L834.5 210.5L875.5 181.5L917.5 181.5L958.5 102.5" stroke="#00ff00"/>
<g><rect x="254.5" y="468.5" width="6" height="6" stroke="#00ff00" fill="none"/><rect x="295.5" y="441.5" width="6" height="6" stroke="#00ff00" fill="none"/><rect x="337.5" y="433.5" width="6" height="6" stroke="#00ff00" fill="none"/><rect x="378.5" y="420.5" width="6" height="6" stroke="#00ff00" fill="none"/><rect x="419.5" y="404.5" width="6" height="6" stroke="#00ff00" fill="none"/><rect x="460.5" y="384.5" width="6" height="6" stroke="#00ff00" fill="none"/><rect x="501.5" y="361.5" width="6" height="6" stroke="#00ff00" fill="none"/><rect x="543.5" y="345.5" width="6" height="6" stroke="#00ff00" fill="none"/><rect x="584.5" y="325.5" width="6" height="6" stroke="#00ff00" fill="none"/><rect x="625.5" y="310.5" width="6" height="6" stroke="#00ff00" fill="none"/><rect x="666.5" y="289.5" width="6" height="6" stroke="#00ff00" fill="none"/><rect x="707.5" y="260.5" width="6" height="6" stroke="#00ff00" fill="none"/><rect x="749.5" y="230.5" width="6" height="6" stroke="#00ff00" fill="none"/><rect x="790.5" y="213.5" width="6" height="6" stroke="#00ff00" fill="none"/><rect x="831.5" y="208.5" width="6" height="6" stroke="#00ff00" fill="none"/><rect x="872.5" y="179.5" width="6" height="6" stroke="#00ff00" fill="none"/><rect x="914.5" y="179.5" width="6" height="6" stroke="#00ff00" fill="none"/><rect x="955.5" y="100.5" width="6" height="6" stroke="#00ff00" fill="none"/></g>
<path d="M257.5 521.5L298.5 496.5L340.5 427.5L381.5 415.5L422.5 398.5L463.5 378.5L504.5 354.5L546.5 338.5L587.5 319.5L628.5 303.5L669.5 281.5L710.5 251.5L752.5 219.5L793.5 205.5L834.5 205.5L875.5 143.5L917.5 143.5L958.5 66.5" stroke="#0000ff"/>
<g><rect x="254.5" y="519.5" width="6" height="6" stroke="#0000ff" fill="none"/><rect x="295.5" y="494.5" width="6" height="6" stroke="#0000ff" fill="none"/><rect x="337.5" y="425.5" width="6" height="6" stroke="#0000ff" fill="none"/><rect x="378.5" y="413.5" width="6" height="6" stroke="#0000ff" fill="none"/><rect x="419.5" y="396.5" width="6" height="6" stroke="#0000ff" fill="none"/><rect x="460.5" y="376.5" width="6" height="6" stroke="#0000ff" fill="none"/><rect x="501.5" y="352.5" width="6" height="6" stroke="#0000ff" fill="none"/><rect x="543.5" y="336.5" width="6" height="6" stroke="#0000ff" fill="none"/><rect x="584.5" y="317.5" width="6" height="6" stroke="#0000ff" fill="none"/><rect x="625.5" y="301.5" width="6" height="6" stroke="#0000ff" fill="none"/><rect x="666.5" y="279.5" width="6" height="6" stroke="#0000ff" fill="none"/><rect x="707.5" y="249.5" width="6" height="6" stroke="#0000ff" fill="none"/><rect x="749.5" y="217.5" width="6" height="6" stroke="#0000ff" fill="none"/><rect x="790.5" y="203.5" width="6" height="6" stroke="#0000ff" fill="none"/><rect x="831.5" y="203.5" width="6" height="6" stroke="#0000ff" fill="none"/><rect x="872.5" y="141.5" width="6" height="6" stroke="#0000ff" fill="none"/><rect x="914.5" y="141.5" width="6" height="6" stroke="#0000ff" fill="none"/><rect x="955.5" y="64.5" width="6" height="6" stroke="#0000ff" fill="none"/></g>
</g>
<g font-size="9.2" font-weight="bold">
<g shape-rendering="crispEdges" fill="none"><path d="M35 563.0h13" stroke="#ff0000" stroke-width="2"/><path d="M39.0 561.0h5v5h-5zM41.0 560.0h1v7h-1zM38.0 563.0h7v1h-7z" fill="#ff0000" stroke="none"/></g>
<text x="51" y="566.3" textLength="19" lengthAdjust="spacingAndGlyphs">Bund</text>
<g shape-rendering="crispEdges" fill="none"><path d="M169 563.0h13" stroke="#00ff00" stroke-width="2"/><path d="M173.0 561.0h5v5h-5zM175.0 560.0h1v7h-1zM172.0 563.0h7v1h-7z" fill="#00ff00" stroke="none"/></g>
<text x="185" y="566.3" textLength="84" lengthAdjust="spacingAndGlyphs">Baden-Württemberg</text>
<g shape-rendering="crispEdges" fill="none"><path d="M303 563.0h13" stroke="#0000ff" stroke-width="2"/><path d="M307.0 561.0h5v5h-5zM309.0 560.0h1v7h-1zM306.0 563.0h7v1h-7z" fill="#0000ff" stroke="none"/></g>
<text x="319" y="566.3" textLength="29" lengthAdjust="spacingAndGlyphs">Bayern</text>
<g shape-rendering="crispEdges" fill="none"><path d="M437 563.0h13" stroke="#808000" stroke-width="2"/><path d="M441.0 561.0h5v5h-5zM443.0 560.0h1v7h-1zM440.0 563.0h7v1h-7z" fill="#808000" stroke="none"/></g>
<text x="453" y="566.3" textLength="29" lengthAdjust="spacingAndGlyphs">Berlin</text>
<g shape-rendering="crispEdges" fill="none"><path d="M571 563.0h13" stroke="#ff00ff" stroke-width="2"/><path d="M575.0 561.0h5v5h-5zM577.0 560.0h1v7h-1zM574.0 563.0h7v1h-7z" fill="#ff00ff" stroke="none"/></g>
<text x="587" y="566.3" textLength="54" lengthAdjust="spacingAndGlyphs">Brandenburg</text>
<g shape-rendering="crispEdges" fill="none"><path d="M705 563.0h13" stroke="#00ffff" stroke-width="2"/><path d="M709.0 561.0h5v5h-5zM711.0 560.0h1v7h-1zM708.0 563.0h7v1h-7z" fill="#00ffff" stroke="none"/></g>
<text x="721" y="566.3" textLength="29" lengthAdjust="spacingAndGlyphs">Bremen</text>
<g shape-rendering="crispEdges" fill="none"><path d="M839 563.0h13" stroke="#ffa500" stroke-width="2"/><path d="M843.0 561.0h5v5h-5zM845.0 560.0h1v7h-1zM842.0 563.0h7v1h-7z" fill="#ffa500" stroke="none"/></g>
<text x="855" y="566.3" textLength="34" lengthAdjust="spacingAndGlyphs">Hamburg</text>
<g shape-rendering="crispEdges" fill="none"><path d="M35 579.0h13" stroke="#ff0000" stroke-width="2"/><path d="M38.0 576.0L45.0 583.0M38.0 583.0L45.0 576.0" stroke="#ff0000" fill="none"/></g>
<text x="51" y="582.3" textLength="29" lengthAdjust="spacingAndGlyphs">Hessen</text>
<g shape-rendering="crispEdges" fill="none"><path d="M169 579.0h13" stroke="#00ff00" stroke-width="2"/><path d="M172.0 576.0L179.0 583.0M172.0 583.0L179.0 576.0" stroke="#00ff00" fill="none"/></g>
<text x="185" y="582.3" textLength="109" lengthAdjust="spacingAndGlyphs">Mecklenburg-Vorpommern</text>
<g shape-rendering="crispEdges" fill="none"><path d="M303 579.0h13" stroke="#0000ff" stroke-width="2"/><path d="M306.0 576.0L313.0 583.0M306.0 583.0L313.0 576.0" stroke="#0000ff" fill="none"/></g>
<text x="319" y="582.3" textLength="64" lengthAdjust="spacingAndGlyphs">Niedersachsen</text>
<g shape-rendering="crispEdges" fill="none"><path d="M437 579.0h13" stroke="#808000" stroke-width="2"/><path d="M440.0 576.0L447.0 583.0M440.0 583.0L447.0 576.0" stroke="#808000" fill="none"/></g>
<text x="453" y="582.3" textLength="94" lengthAdjust="spacingAndGlyphs">Nordrhein-Westfalen</text>
<g shape-rendering="crispEdges" fill="none"><path d="M571 579.0h13" stroke="#ff00ff" stroke-width="2"/><path d="M574.0 576.0L581.0 583.0M574.0 583.0L581.0 576.0" stroke="#ff00ff" fill="none"/></g>
<text x="587" y="582.3" textLength="74" lengthAdjust="spacingAndGlyphs">Rheinland-Pfalz</text>
<g shape-rendering="crispEdges" fill="none"><path d="M705 579.0h13" stroke="#00ffff" stroke-width="2"/><path d="M708.0 576.0L715.0 583.0M708.0 583.0L715.0 576.0" stroke="#00ffff" fill="none"/></g>
<text x="721" y="582.3" textLength="39" lengthAdjust="spacingAndGlyphs">Saarland</text>
<g shape-rendering="crispEdges" fill="none"><path d="M839 579.0h13" stroke="#ffa500" stroke-width="2"/><path d="M842.0 576.0L849.0 583.0M842.0 583.0L849.0 576.0" stroke="#ffa500" fill="none"/></g>
<text x="855" y="582.3" textLength="34" lengthAdjust="spacingAndGlyphs">Sachsen</text>
<g shape-rendering="crispEdges" fill="none"><path d="M35 595.0h13" stroke="#ff0000" stroke-width="2"/><rect x="38.5" y="592.5" width="6" height="6" stroke="#ff0000" fill="none"/></g>
<text x="51" y="598.3" textLength="69" lengthAdjust="spacingAndGlyphs">Sachsen-Anhalt</text>
<g shape-rendering="crispEdges" fill="none"><path d="M169 595.0h13" stroke="#00ff00" stroke-width="2"/><rect x="172.5" y="592.5" width="6" height="6" stroke="#00ff00" fill="none"/></g>
<text x="185" y="598.3" textLength="89" lengthAdjust="spacingAndGlyphs">Schleswig-Holstein</text>
<g shape-rendering="crispEdges" fill="none"><path d="M303 595.0h13" stroke="#0000ff" stroke-width="2"/><rect x="306.5" y="592.5" width="6" height="6" stroke="#0000ff" fill="none"/></g>
<text x="319" y="598.3" textLength="44" lengthAdjust="spacingAndGlyphs">Thüringen</text>
</g>
</svg></body></html>
